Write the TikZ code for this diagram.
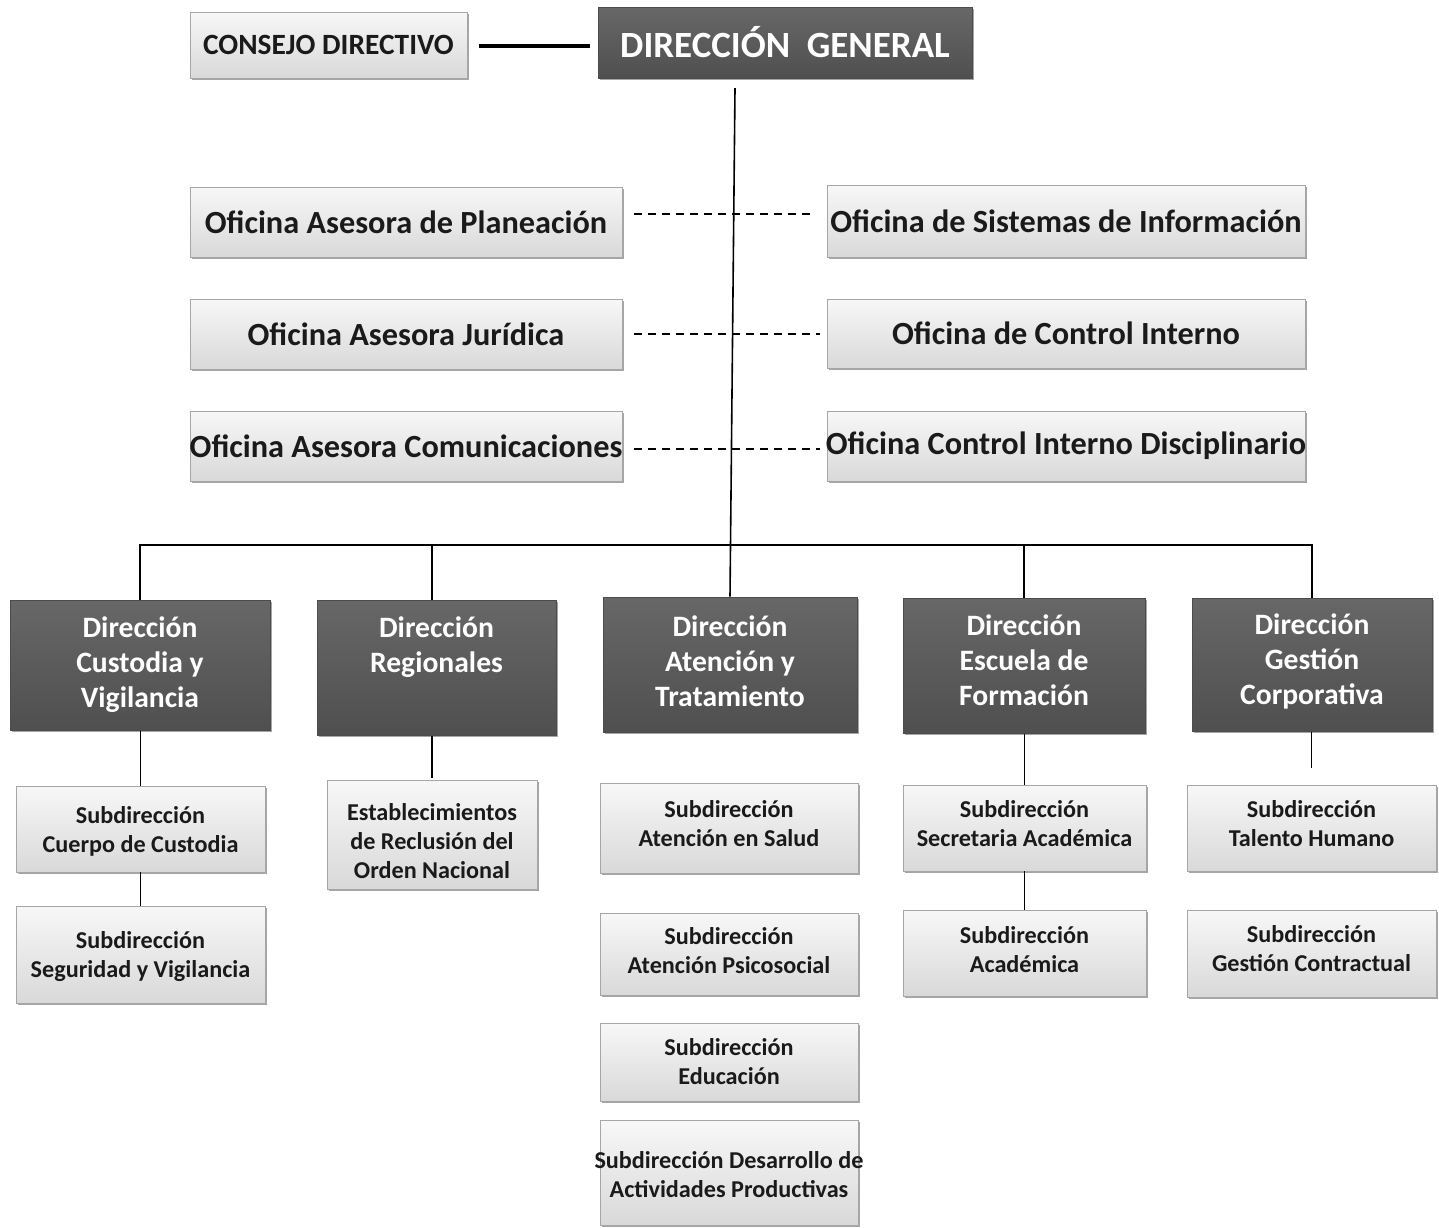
\documentclass[tikz,border=0pt]{standalone}
\usepackage{fontspec}
\setmainfont{Carlito}
\usetikzlibrary{shadows}
\definecolor{darkfill}{HTML}{5A5A5A}
\definecolor{inkc}{HTML}{1A1A1A}
\tikzset{
  boxshadow/.style={drop shadow={shadow xshift=2pt, shadow yshift=-2pt, opacity=0.35, fill=black}},
  lightbox/.style={rectangle, draw=gray!70, line width=0.8pt, top color=gray!6, bottom color=gray!30, inner sep=0pt, boxshadow},
  darkbox/.style={rectangle, draw=black!70, line width=1pt, top color=darkfill!92!white, bottom color=darkfill!88!black, inner sep=0pt, boxshadow},
  basetext/.style={inner sep=0pt, align=center},
  office/.style={lightbox},
  officetext/.style={basetext, text=inkc, font=\bfseries\fontsize{32.3}{38}\selectfont},
  topbox/.style={lightbox},
  topboxtext/.style={basetext, text=inkc, font=\bfseries\fontsize{29.4}{35}\selectfont},
  headbox/.style={darkbox},
  headboxtext/.style={basetext, text=white, font=\bfseries\fontsize{37}{44}\selectfont},
  dirbox/.style={darkbox},
  dirboxtext/.style={basetext, text=white, font=\bfseries\fontsize{29.6}{35}\selectfont},
  subbox/.style={lightbox},
  subboxtext/.style={basetext, text=inkc, font=\bfseries\fontsize{24.2}{29}\selectfont},
  conn/.style={draw=black, line width=1.6pt},
  dashconn/.style={draw=black, line width=1.6pt, dash pattern=on 8pt off 6pt},
}
% #1 style, #2 name, #3 cx, #4 cy, #5 width, #6 height, #7 text offset, #8 text
\newcommand{\orgbox}[8]{%
  \node[#1, minimum width=#5pt, minimum height=#6pt] (#2) at (#3,#4) {};
  \node[#1text] (#2t) at ({#3},{#4+(#7)}) {#8};
}
\begin{document}
\begin{tikzpicture}[x=1pt,y=-1pt]
\useasboundingbox[fill=white] (0,0) rectangle (1439,1227);

% top level
\orgbox{topbox}{cd}{328.5}{45}{277}{66}{0}{CONSEJO DIRECTIVO}
\orgbox{headbox}{dg}{785}{42.5}{374}{71}{0}{DIRECCIÓN~~GENERAL}

% advisory offices
\orgbox{office}{ap}{406}{222}{432}{70}{0}{Oficina Asesora de Planeación}
\orgbox{office}{aj}{406}{334}{432}{70}{0}{Oficina Asesora Jurídica}
\orgbox{office}{ac}{406}{446}{432}{70}{0}{Oficina Asesora Comunicaciones}
\orgbox{office}{si}{1066}{221}{478}{72}{0}{Oficina de Sistemas de Información}
\orgbox{office}{ci}{1066}{333.5}{478}{69}{0}{Oficina de Control Interno}
\orgbox{office}{cid}{1066}{446}{478}{70}{0}{Oficina Control Interno Disciplinario}

% directions
\orgbox{dirbox}{d1}{140}{665}{260}{130}{0}{Dirección\\Custodia y\\Vigilancia}
\orgbox{dirbox}{d2}{436.5}{667.5}{239}{135}{0}{Dirección\\Regionales\\\strut}
\orgbox{dirbox}{d3}{730}{664.5}{254}{135}{-3}{Dirección\\Atención y\\Tratamiento}
\orgbox{dirbox}{d4}{1024}{665.5}{242}{135}{-5}{Dirección\\Escuela de\\Formación}
\orgbox{dirbox}{d5}{1312}{664.5}{240}{133}{-3}{Dirección\\Gestión\\Corporativa}

% subdirections
\orgbox{subbox}{s11}{140.5}{829}{249}{86}{2}{Subdirección\\Cuerpo de Custodia}
\orgbox{subbox}{s12}{140.5}{954.5}{249}{97}{2}{Subdirección\\Seguridad y Vigilancia}
\orgbox{subbox}{s21}{432}{834.5}{210}{109}{7}{Establecimientos\\de Reclusión del\\Orden Nacional}
\orgbox{subbox}{s31}{729}{828}{258}{90}{-4}{Subdirección\\Atención en Salud}
\orgbox{subbox}{s32}{729}{954}{258}{82}{-3}{Subdirección\\Atención Psicosocial}
\orgbox{subbox}{s33}{729}{1062}{258}{78}{0}{Subdirección\\Educación}
\orgbox{subbox}{s34}{729}{1172.5}{258}{105}{2}{Subdirección Desarrollo de\\Actividades Productivas}
\orgbox{subbox}{s41}{1024.5}{828}{243}{86}{-4}{Subdirección\\Secretaria Académica}
\orgbox{subbox}{s42}{1024.5}{953}{243}{86}{-3}{Subdirección\\Académica}
\orgbox{subbox}{s51}{1311.5}{828}{249}{86}{-4}{Subdirección\\Talento Humano}
\orgbox{subbox}{s52}{1311.5}{953.5}{249}{87}{-5}{Subdirección\\Gestión Contractual}

% connectors
\coordinate (dgout) at (735,88);
\coordinate (bus) at (730.5,545);
\draw[line width=4pt, shorten <=12pt, shorten >=8pt] ([yshift=-1pt]cd.east) -- ([yshift=-1pt]cd.east -| dg.west);
\draw[conn] (dgout) -- (bus) -- (d3.north);
\draw[conn] (d1.north) -- (d1.north |- bus) -- (d5.north |- bus) -- (d5.north);
\draw[conn] (s21.north |- d2.north) -- (s21.north |- bus);
\draw[conn] (d4.north) -- (d4.north |- bus);

\draw[dashconn, shorten <=12pt, shorten >=15pt] ([yshift=8pt]ap.east) -- ([yshift=8pt]ap.east -| si.west);
\draw[dashconn, shorten <=12pt, shorten >=7pt] (aj.east) -- (aj.east -| ci.west);
\draw[dashconn, shorten <=12pt, shorten >=7pt] ([yshift=-3pt]ac.east) -- ([yshift=-3pt]ac.east -| cid.west);

\draw[conn] (d1.south -| s11.north) -- (s11.north);
\draw[conn] (s11.south) -- (s12.north);
\draw[conn, shorten >=2pt] (s21.north |- d2.south) -- (s21.north);
\draw[conn] (d4.south -| s41.north) -- (s41.north);
\draw[conn] (s41.south) -- (s42.north);
\draw[conn, shorten >=17pt] (d5.south -| s51.north) -- (s51.north);
\end{tikzpicture}
\end{document}
